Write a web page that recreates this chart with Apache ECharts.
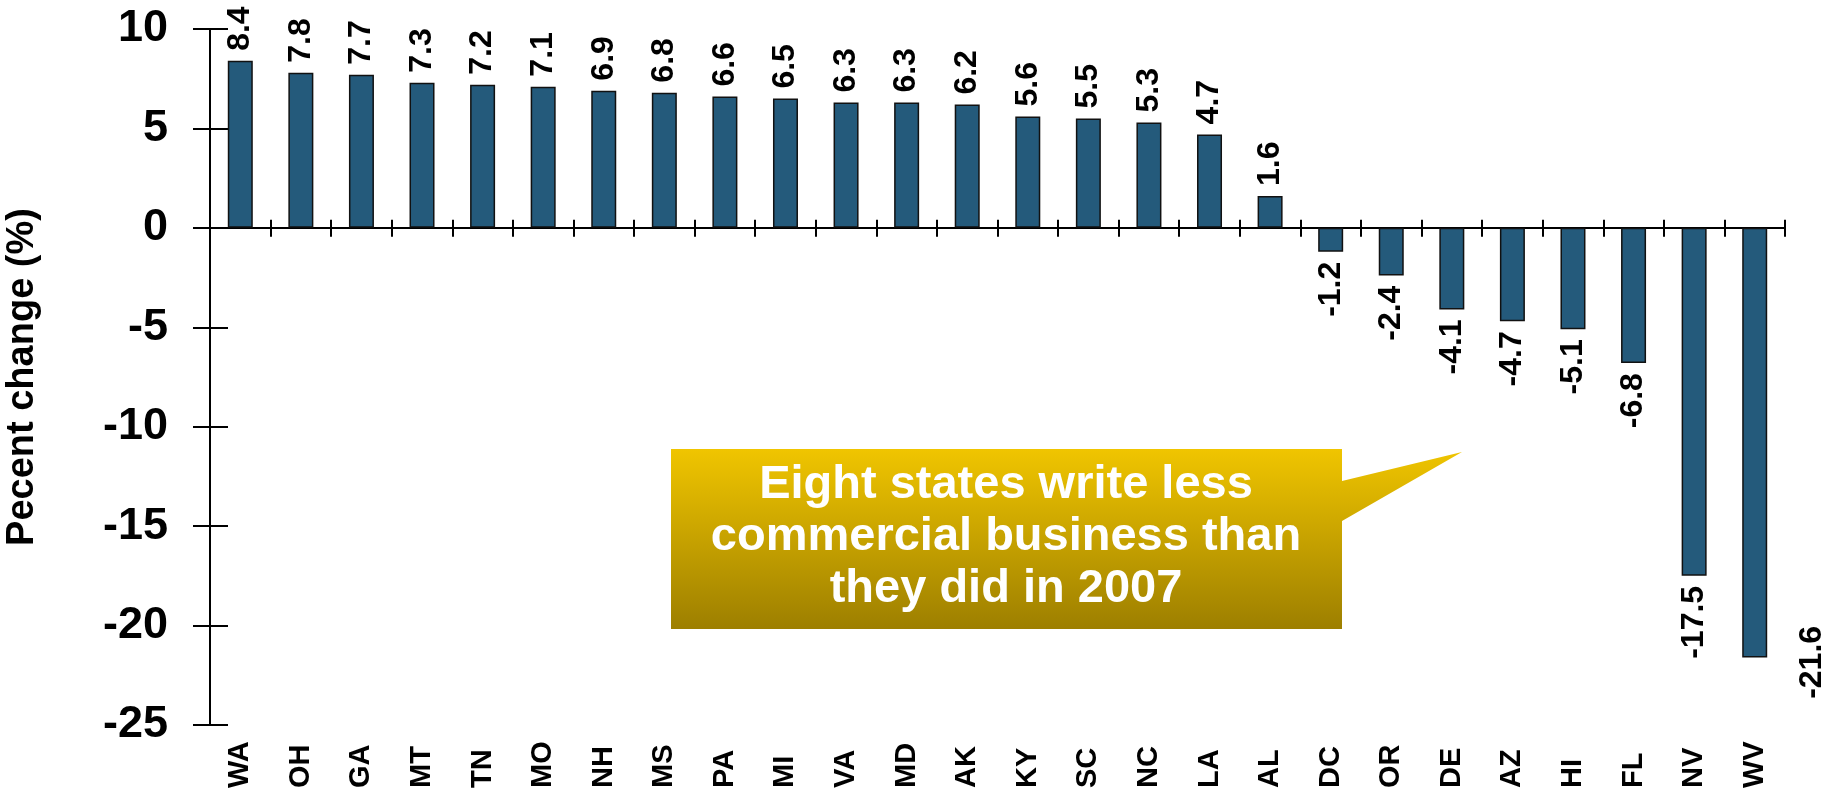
<!DOCTYPE html>
<html>
<head>
<meta charset="utf-8">
<script src="https://cdn.jsdelivr.net/npm/echarts@6/dist/echarts.min.js"></script>
<style>
  html, body { margin: 0; padding: 0; background: #ffffff; }
  #chart { width: 1831px; height: 800px; }
</style>
</head>
<body>
<div id="chart"></div>
<script>
// ---- data ----
const categories = ['WA','OH','GA','MT','TN','MO','NH','MS','PA','MI','VA','MD','AK','KY','SC','NC','LA','AL','DC','OR','DE','AZ','HI','FL','NV','WV'];
const values = [8.4, 7.8, 7.7, 7.3, 7.2, 7.1, 6.9, 6.8, 6.6, 6.5, 6.3, 6.3, 6.2, 5.6, 5.5, 5.3, 4.7, 1.6, -1.2, -2.4, -4.1, -4.7, -5.1, -6.8, -17.5, -21.6];
const yAxisTitle = 'Pecent change (%)';
const yMin = -25, yMax = 10, yStep = 5;
const calloutLines = ['Eight states write less', 'commercial business than', 'they did in 2007'];

// ---- chart ----
const FONT = '"Liberation Sans", Arial, Helvetica, sans-serif';
const chart = echarts.init(document.getElementById('chart'), null, { renderer: 'canvas' });

const lastIdx = values.length - 1;
const seriesData = values.map((v, i) => {
  const item = {
    value: v,
    label: v >= 0
      ? { position: 'top', align: 'left', verticalAlign: 'middle' }
      : { position: 'bottom', align: 'right', verticalAlign: 'middle' }
  };
  if (i === lastIdx) {
    // label offset is in the rotated frame: [up, right]
    item.label = { position: 'bottom', align: 'center', verticalAlign: 'middle', offset: [5, 57] };
  }
  return item;
});

const baseY = {
  type: 'value', min: yMin, max: yMax, interval: yStep, position: 'left',
  splitLine: { show: false }
};

const option = {
  backgroundColor: '#ffffff',
  animation: false,
  grid: { left: 210, right: 46, top: 29, bottom: 75, containLabel: false, outerBoundsMode: 'none' },
  xAxis: [
    {
      type: 'category', data: categories, position: 'bottom',
      axisLine: { show: true, onZero: true, onZeroAxisIndex: 0, lineStyle: { color: '#000', width: 2 } },
      axisTick: { show: true, inside: false, length: 9, interval: 0, lineStyle: { color: '#000', width: 2 } },
      axisLabel: { show: false },
      splitLine: { show: false }
    },
    {
      type: 'category', data: categories, position: 'bottom',
      axisLine: { show: true, onZero: true, onZeroAxisIndex: 0, lineStyle: { color: '#000', width: 2, opacity: 0 } },
      axisTick: { show: true, inside: true, length: 8, interval: 0, lineStyle: { color: '#000', width: 2 } },
      axisLabel: { show: false },
      splitLine: { show: false }
    },
    {
      type: 'category', data: categories, position: 'bottom',
      axisLine: { show: false, onZero: false },
      axisTick: { show: false },
      axisLabel: {
        show: true, interval: 0, rotate: 90, align: 'left', verticalAlign: 'middle', margin: 63,
        color: '#000', fontFamily: FONT, fontWeight: 'bold', fontSize: 29
      },
      splitLine: { show: false }
    }
  ],
  yAxis: [
    Object.assign({}, baseY, {
      name: yAxisTitle, nameLocation: 'middle', nameGap: 168,
      nameTextStyle: { color: '#000', fontFamily: FONT, fontWeight: 'bold', fontSize: 38 },
      axisLine: { show: true, onZero: false, lineStyle: { color: '#000', width: 2 } },
      axisTick: { show: true, inside: false, length: 17, lineStyle: { color: '#000', width: 2 } },
      axisLabel: { show: true, margin: 42, color: '#000', fontFamily: FONT, fontWeight: 'bold', fontSize: 45 }
    }),
    Object.assign({}, baseY, {
      axisLine: { show: false, onZero: false },
      axisTick: { show: true, inside: true, length: 18, lineStyle: { color: '#000', width: 2 } },
      axisLabel: { show: false }
    })
  ],
  series: [{
    type: 'bar', xAxisIndex: 0, yAxisIndex: 0,
    data: seriesData,
    barWidth: 25,
    itemStyle: { color: '#245A7B', borderColor: '#111', borderWidth: 1.5 },
    label: {
      show: true, rotate: 90, distance: 10,
      color: '#000', fontFamily: FONT, fontWeight: 'bold', fontSize: 32,
      formatter: p => String(p.value)
    },
    z: 3
  }],
  graphic: [
    {
      type: 'polygon', z: 10,
      shape: { points: [[671, 449], [1342, 449], [1342, 481], [1462, 452], [1342, 521], [1342, 629], [671, 629]] },
      style: {
        fill: {
          type: 'linear', x: 0, y: 449, x2: 0, y2: 629, global: true,
          colorStops: [{ offset: 0, color: '#F0C500' }, { offset: 1, color: '#9D7F00' }]
        }
      }
    },
    {
      type: 'text', z: 11, x: 1006, y: 537,
      style: {
        text: calloutLines.join('\n'),
        fill: '#ffffff', font: 'bold 47px ' + FONT,
        textAlign: 'center', textVerticalAlign: 'middle', lineHeight: 52
      }
    }
  ]
};
chart.setOption(option);
</script>
</body>
</html>
